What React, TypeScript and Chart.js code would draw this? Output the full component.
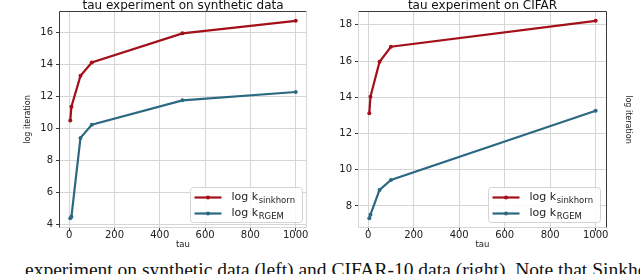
import React, { useEffect, useRef } from "react";
import { Chart, registerables } from "chart.js";

Chart.register(...registerables);

// ---- data ----
const tauLeft = [5, 10, 50, 100, 500, 1000];
const sinkhornLeft = [10.48, 11.35, 13.28, 14.12, 15.94, 16.72];
const rgemLeft = [4.38, 4.46, 9.4, 10.22, 11.75, 12.27];

const tauRight = [5, 10, 50, 100, 1000];
const sinkhornRight = [13.12, 14.03, 15.96, 16.79, 18.22];
const rgemRight = [7.33, 7.52, 8.89, 9.44, 13.26];

const xTicks = [0, 200, 400, 600, 800, 1000];
const yTicksLeft = [4, 6, 8, 10, 12, 14, 16];
const yTicksRight = [8, 10, 12, 14, 16, 18];

const titleLeft = "tau experiment on synthetic data";
const titleRight = "tau experiment on CIFAR";
const xLabel = "tau";
const yLabel = "log iteration";
const legendMain = "log k";
const legendSubs = ["sinkhorn", "RGEM"];
const caption =
  "experiment on synthetic data (left) and CIFAR-10 data (right). Note that Sinkhorn";

// ---- style ----
const RED = "#a3101a";
const TEAL = "#2c6882";
const GRID = "#d6d6d6";
const DARK = "#3a3a3a";
const FONT = "'DejaVu Sans', sans-serif";

function padRange(vals: number[]) {
  const mn = Math.min(...vals);
  const mx = Math.max(...vals);
  const m = (mx - mn) * 0.05;
  return [mn - m, mx + m];
}

type PanelOpts = {
  side: "left" | "right";
  tau: number[];
  sink: number[];
  rgem: number[];
  yTicks: number[];
  title: string;
};

function makeConfig(o: PanelOpts): any {
  const [xmin, xmax] = padRange(o.tau);
  const [ymin, ymax] = padRange([...o.sink, ...o.rgem]);
  const ds = (label: string, xs: number[], ys: number[], color: string) => ({
    label,
    data: xs.map((x, i) => ({ x, y: ys[i] })),
    borderColor: color,
    backgroundColor: color,
    borderWidth: 2.2,
    pointRadius: 2,
    pointHoverRadius: 2,
    pointBorderWidth: 0,
    tension: 0,
  });

  const isLeft = o.side === "left";

  const spinesLegend = {
    id: "spinesLegend",
    afterDraw(chart: any) {
      const ctx = chart.ctx;
      const ca = chart.chartArea;
      const L = Math.round(ca.left) + 0.5;
      const R = Math.round(ca.right) - 0.5;
      const T = Math.round(ca.top) + 0.5;
      const B = Math.round(ca.bottom) - 0.5;
      const line = (x1: number, y1: number, x2: number, y2: number, c: string) => {
        ctx.save();
        ctx.strokeStyle = c;
        ctx.lineWidth = 1;
        ctx.beginPath();
        ctx.moveTo(x1, y1);
        ctx.lineTo(x2, y2);
        ctx.stroke();
        ctx.restore();
      };
      // spines
      line(L, T, R, T, DARK);
      line(L, B, R, B, GRID);
      if (isLeft) {
        line(L, T, L, B, DARK);
        line(R, T, R, B, GRID);
      } else {
        line(L, T, L, B, GRID);
        line(R, T, R, B, DARK);
      }
      // legend
      const bw = 112;
      const bh = 35;
      const bx = Math.round(ca.right - (isLeft ? 5 : 7) - bw) + 0.5;
      const by = Math.round(ca.bottom - 6 - bh) + 0.5;
      ctx.save();
      ctx.fillStyle = "rgba(255,255,255,0.85)";
      ctx.strokeStyle = "#d4d4d4";
      ctx.lineWidth = 1;
      ctx.beginPath();
      (ctx as any).roundRect(bx, by, bw, bh, 3);
      ctx.fill();
      ctx.stroke();
      const colors = [RED, TEAL];
      legendSubs.forEach((sub, i) => {
        const cy = by + 10 + i * 16;
        const lx1 = bx + 4;
        const lx2 = bx + 31;
        ctx.strokeStyle = colors[i];
        ctx.lineWidth = 2.2;
        ctx.beginPath();
        ctx.moveTo(lx1, cy);
        ctx.lineTo(lx2, cy);
        ctx.stroke();
        ctx.fillStyle = colors[i];
        ctx.beginPath();
        ctx.arc((lx1 + lx2) / 2, cy, 2, 0, Math.PI * 2);
        ctx.fill();
        ctx.fillStyle = "#222";
        ctx.textBaseline = "middle";
        ctx.textAlign = "left";
        ctx.font = `11px ${FONT}`;
        const tx = bx + 41;
        ctx.fillText(legendMain, tx, cy);
        const w = ctx.measureText(legendMain).width;
        ctx.font = `8.5px ${FONT}`;
        ctx.fillText(sub, tx + w + 0.5, cy + 3);
      });
      ctx.restore();
    },
  };

  const scales: any = {
    x: {
      type: "linear",
      min: xmin,
      max: xmax,
      afterBuildTicks: (s: any) => {
        s.ticks = xTicks.map((v) => ({ value: v }));
      },
      afterFit: (s: any) => {
        s.height = 22;
      },
      grid: { color: GRID, lineWidth: 1, tickColor: DARK, tickLength: 3 },
      border: { display: false },
      ticks: {
        color: "#222",
        font: { family: FONT, size: 10 },
        padding: -2,
        maxRotation: 0,
        callback: (v: any) => String(v),
      },
      title: {
        display: true,
        text: xLabel,
        color: "#222",
        font: { family: FONT, size: 8.5 },
        padding: 0,
      },
    },
    y: {
      type: "linear",
      position: "left",
      min: ymin,
      max: ymax,
      afterBuildTicks: (s: any) => {
        s.ticks = o.yTicks.map((v) => ({ value: v }));
      },
      afterFit: (s: any) => {
        s.width = isLeft ? 59 : 38;
      },
      grid: { color: GRID, lineWidth: 1, tickColor: DARK, tickLength: 3 },
      border: { display: false },
      ticks: {
        color: "#222",
        font: { family: FONT, size: 10 },
        padding: 3,
        callback: (v: any) => String(v),
      },
      title: {
        display: isLeft,
        text: yLabel,
        color: "#222",
        font: { family: FONT, size: 8 },
        padding: { top: 23, bottom: 0 },
      },
    },
  };
  if (!isLeft) {
    scales.yr = {
      type: "linear",
      position: "right",
      afterFit: (s: any) => {
        s.width = 33;
      },
      grid: { display: false, drawTicks: false },
      border: { display: false },
      ticks: { display: false },
      title: {
        display: true,
        text: yLabel,
        color: "#222",
        font: { family: FONT, size: 8 },
        padding: { top: 7, bottom: 0 },
      },
    };
  }

  return {
    type: "line",
    data: {
      datasets: [
        ds("log k_sinkhorn", o.tau, o.sink, RED),
        ds("log k_RGEM", o.tau, o.rgem, TEAL),
      ],
    },
    options: {
      animation: false,
      responsive: false,
      devicePixelRatio: 1,
      layout: { padding: { left: 0, right: isLeft ? 13 : 0, top: 0, bottom: 0 } },
      plugins: {
        legend: { display: false },
        tooltip: { enabled: false },
        title: {
          display: true,
          text: o.title,
          color: "#111",
          font: { family: FONT, size: 12, lineHeight: 11 / 12, weight: "normal" },
          padding: 0,
          fullSize: false,
        },
      },
      scales,
    },
    plugins: [spinesLegend],
  };
}

function Panel(props: PanelOpts & { left: number }) {
  const ref = useRef<HTMLCanvasElement | null>(null);
  useEffect(() => {
    if (!ref.current) return;
    const chart = new Chart(ref.current, makeConfig(props));
    return () => chart.destroy();
  }, []);
  return (
    <canvas
      ref={ref}
      width={320}
      height={250}
      style={{ position: "absolute", left: props.left, top: 0, width: 320, height: 250 }}
    />
  );
}

export default function App() {
  return (
    <div
      style={{
        position: "fixed",
        left: 0,
        top: 0,
        width: 640,
        height: 274,
        overflow: "hidden",
        background: "#fff",
      }}
    >
      <Panel
        left={0}
        side="left"
        tau={tauLeft}
        sink={sinkhornLeft}
        rgem={rgemLeft}
        yTicks={yTicksLeft}
        title={titleLeft}
      />
      <Panel
        left={320}
        side="right"
        tau={tauRight}
        sink={sinkhornRight}
        rgem={rgemRight}
        yTicks={yTicksRight}
        title={titleRight}
      />
      <div
        style={{
          position: "absolute",
          left: 25,
          top: 259,
          whiteSpace: "nowrap",
          fontFamily: "'Liberation Serif', serif",
          fontSize: 19.5,
          color: "#111",
        }}
      >
        {caption}
      </div>
    </div>
  );
}
